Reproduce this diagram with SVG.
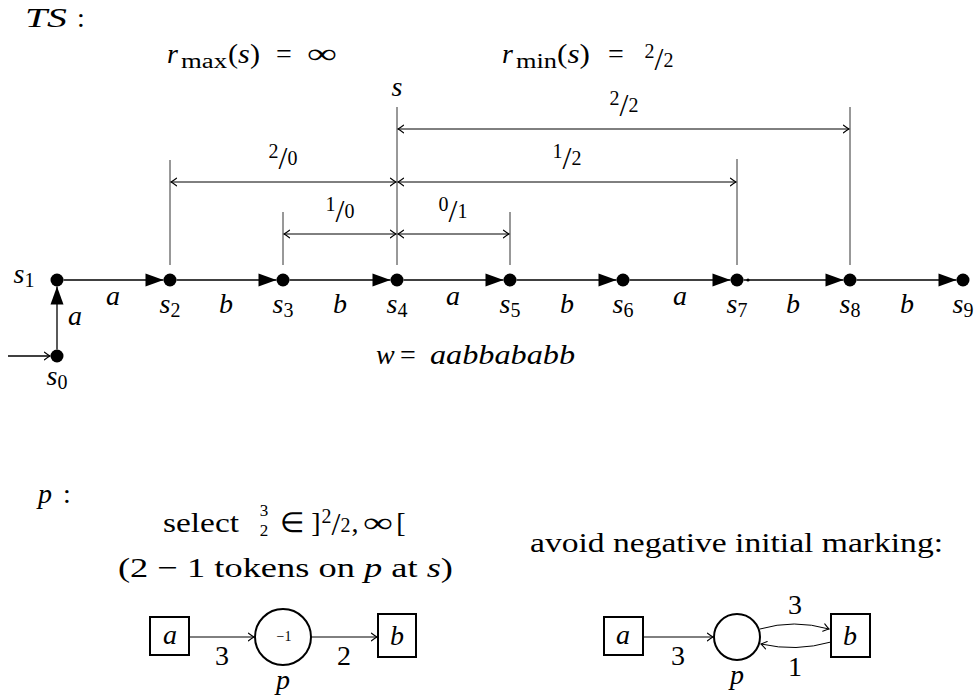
<svg xmlns="http://www.w3.org/2000/svg" width="978" height="700" viewBox="0 0 978 700">
<style>
.t{font-family:"Liberation Serif",serif;font-size:28px;fill:#000}
.i{font-style:italic}
.sm{font-size:20px;font-style:normal}
.fr{font-size:17px;font-style:normal}
.sl{font-size:32px;font-style:normal}
.dim{stroke:#000;stroke-width:1;fill:none}
.vl{stroke:#333;stroke-width:1;fill:none}
.edge{stroke:#000;stroke-width:1.3;fill:none}
.st{fill:#000}
.box{fill:#fff;stroke:#000;stroke-width:2}
.pl{fill:#fff;stroke:#000;stroke-width:2}
</style>
<defs>
<marker id="to" viewBox="-7 -5 9 10" refX="0" refY="0" markerWidth="9" markerHeight="10" markerUnits="userSpaceOnUse" orient="auto-start-reverse">
<path d="M-5.5,-3.8 Q-1.5,-0.8 0,0 Q-1.5,0.8 -5.5,3.8" fill="none" stroke="#000" stroke-width="1.1" stroke-linecap="round"/>
</marker>
<marker id="lx" viewBox="-19 -7 20 14" refX="0" refY="0" markerWidth="20" markerHeight="14" markerUnits="userSpaceOnUse" orient="auto">
<path d="M-18,-6.5 L0,0 L-18,6.5 Z" fill="#000"/>
</marker>
</defs>
<rect width="978" height="700" fill="#fff"/>

<g id="titles">
<text class="t i" x="25" y="27" textLength="42" lengthAdjust="spacingAndGlyphs">TS</text>
<text class="t" x="81" y="27" text-anchor="middle">:</text>
<text class="t i" x="167" y="63">r</text>
<text class="t sm" x="181" y="68" textLength="46" lengthAdjust="spacingAndGlyphs">max</text>
<text class="t" x="228" y="63" textLength="32" lengthAdjust="spacingAndGlyphs">(<tspan class="i">s</tspan>)</text>
<text class="t" x="284" y="63" text-anchor="middle">=</text>
<text class="t" x="307" y="63" textLength="30" lengthAdjust="spacingAndGlyphs">∞</text>
<text class="t i" x="502" y="63">r</text>
<text class="t sm" x="516" y="68" textLength="41" lengthAdjust="spacingAndGlyphs">min</text>
<text class="t" x="557" y="63" textLength="33" lengthAdjust="spacingAndGlyphs">(<tspan class="i">s</tspan>)</text>
<text class="t" x="616" y="63" text-anchor="middle">=</text>
<text class="t" x="659" y="67" text-anchor="middle"><tspan class="sm" dy="-9">2</tspan><tspan class="sl" dy="12">/</tspan><tspan class="sm" dy="-3">2</tspan></text>
<text class="t i" x="397" y="96" text-anchor="middle">s</text>
<text class="t i" x="376" y="364">w</text>
<text class="t" x="408" y="364" text-anchor="middle">=</text>
<text class="t i" x="430" y="364" textLength="145" lengthAdjust="spacingAndGlyphs">aabbababb</text>
</g>

<g id="dimensions">
<line class="vl" x1="397" y1="107" x2="397" y2="265"/>
<line class="vl" x1="170" y1="160" x2="170" y2="265"/>
<line class="vl" x1="283" y1="212" x2="283" y2="265"/>
<line class="vl" x1="510" y1="212" x2="510" y2="265"/>
<line class="vl" x1="737" y1="159" x2="737" y2="265"/>
<line class="vl" x1="850" y1="107" x2="850" y2="265"/>
<line class="dim" x1="398" y1="129" x2="849" y2="129" marker-start="url(#to)" marker-end="url(#to)"/>
<line class="dim" x1="171" y1="182" x2="396" y2="182" marker-start="url(#to)" marker-end="url(#to)"/>
<line class="dim" x1="398" y1="182" x2="736" y2="182" marker-start="url(#to)" marker-end="url(#to)"/>
<line class="dim" x1="284" y1="234" x2="396" y2="234" marker-start="url(#to)" marker-end="url(#to)"/>
<line class="dim" x1="398" y1="234" x2="509" y2="234" marker-start="url(#to)" marker-end="url(#to)"/>
<text class="t" x="624" y="112" text-anchor="middle"><tspan class="sm" dy="-7">2</tspan><tspan class="sl" dy="11">/</tspan><tspan class="sm" dy="-4">2</tspan></text>
<text class="t" x="283" y="165" text-anchor="middle"><tspan class="sm" dy="-7">2</tspan><tspan class="sl" dy="11">/</tspan><tspan class="sm" dy="-4">0</tspan></text>
<text class="t" x="567" y="165" text-anchor="middle"><tspan class="sm" dy="-7">1</tspan><tspan class="sl" dy="11">/</tspan><tspan class="sm" dy="-4">2</tspan></text>
<text class="t" x="340" y="218" text-anchor="middle"><tspan class="sm" dy="-7">1</tspan><tspan class="sl" dy="11">/</tspan><tspan class="sm" dy="-4">0</tspan></text>
<text class="t" x="453" y="218" text-anchor="middle"><tspan class="sm" dy="-7">0</tspan><tspan class="sl" dy="11">/</tspan><tspan class="sm" dy="-4">1</tspan></text>
</g>

<g id="connectors">
<line class="edge" x1="8" y1="356" x2="50" y2="356" marker-end="url(#to)"/>
<line class="edge" x1="57" y1="349.5" x2="57" y2="286.5" marker-end="url(#lx)"/>
<line class="edge" x1="63.5" y1="280" x2="163.5" y2="280" marker-end="url(#lx)"/>
<line class="edge" x1="176.5" y1="280" x2="276.5" y2="280" marker-end="url(#lx)"/>
<line class="edge" x1="289.5" y1="280" x2="390.5" y2="280" marker-end="url(#lx)"/>
<line class="edge" x1="403.5" y1="280" x2="503.5" y2="280" marker-end="url(#lx)"/>
<line class="edge" x1="516.5" y1="280" x2="616.5" y2="280" marker-end="url(#lx)"/>
<line class="edge" x1="629.5" y1="280" x2="730.5" y2="280" marker-end="url(#lx)"/>
<line class="edge" x1="743.5" y1="280" x2="843.5" y2="280" marker-end="url(#lx)"/>
<line class="edge" x1="856.5" y1="280" x2="956.5" y2="280" marker-end="url(#lx)"/>
<circle cx="748" cy="280" r="1.6" fill="#000"/>
<text class="t i" x="75" y="325" text-anchor="middle">a</text>
<text class="t i" x="113" y="305" text-anchor="middle">a</text>
<text class="t i" x="226" y="313" text-anchor="middle">b</text>
<text class="t i" x="340" y="313" text-anchor="middle">b</text>
<text class="t i" x="453" y="305" text-anchor="middle">a</text>
<text class="t i" x="567" y="313" text-anchor="middle">b</text>
<text class="t i" x="680" y="305" text-anchor="middle">a</text>
<text class="t i" x="793" y="313" text-anchor="middle">b</text>
<text class="t i" x="907" y="313" text-anchor="middle">b</text>
</g>

<g id="s0"><circle class="st" cx="57" cy="356" r="6.5"/><text class="t i" x="57" y="385" text-anchor="middle">s<tspan class="sm" dy="4">0</tspan></text></g>
<g id="s1"><circle class="st" cx="57" cy="280" r="6.5"/><text class="t i" x="24" y="283" text-anchor="middle">s<tspan class="sm" dy="4">1</tspan></text></g>
<g id="s2"><circle class="st" cx="170" cy="280" r="6.5"/><text class="t i" x="170" y="313" text-anchor="middle">s<tspan class="sm" dy="4">2</tspan></text></g>
<g id="s3"><circle class="st" cx="283" cy="280" r="6.5"/><text class="t i" x="283" y="313" text-anchor="middle">s<tspan class="sm" dy="4">3</tspan></text></g>
<g id="s4"><circle class="st" cx="397" cy="280" r="6.5"/><text class="t i" x="397" y="313" text-anchor="middle">s<tspan class="sm" dy="4">4</tspan></text></g>
<g id="s5"><circle class="st" cx="510" cy="280" r="6.5"/><text class="t i" x="510" y="313" text-anchor="middle">s<tspan class="sm" dy="4">5</tspan></text></g>
<g id="s6"><circle class="st" cx="623" cy="280" r="6.5"/><text class="t i" x="623" y="313" text-anchor="middle">s<tspan class="sm" dy="4">6</tspan></text></g>
<g id="s7"><circle class="st" cx="737" cy="280" r="6.5"/><text class="t i" x="737" y="313" text-anchor="middle">s<tspan class="sm" dy="4">7</tspan></text></g>
<g id="s8"><circle class="st" cx="850" cy="280" r="6.5"/><text class="t i" x="850" y="313" text-anchor="middle">s<tspan class="sm" dy="4">8</tspan></text></g>
<g id="s9"><circle class="st" cx="963" cy="280" r="6.5"/><text class="t i" x="963" y="313" text-anchor="middle">s<tspan class="sm" dy="4">9</tspan></text></g>

<g id="net-text">
<text class="t i" x="38" y="503">p</text>
<text class="t" x="67" y="503" text-anchor="middle">:</text>
<text class="t" x="163" y="532" textLength="76" lengthAdjust="spacingAndGlyphs">select</text>
<text class="t fr" x="264" y="516" text-anchor="middle">3</text>
<text class="t fr" x="264" y="536" text-anchor="middle">2</text>
<text class="t" x="292" y="532" text-anchor="middle">∈</text>
<text class="t" x="316" y="532" text-anchor="middle">]</text>
<text class="t" x="336" y="532" text-anchor="middle"><tspan class="sm" dy="-9">2</tspan><tspan class="sl" dy="12">/</tspan><tspan class="sm" dy="-3">2</tspan></text>
<text class="t" x="355" y="532" text-anchor="middle">,</text>
<text class="t" x="363" y="532" textLength="30" lengthAdjust="spacingAndGlyphs">∞</text>
<text class="t" x="401" y="532" text-anchor="middle">[</text>
<text class="t" x="118" y="577" textLength="335" lengthAdjust="spacingAndGlyphs">(2 − 1 tokens on <tspan class="i">p</tspan> at <tspan class="i">s</tspan>)</text>
<text class="t" x="530" y="552" textLength="413" lengthAdjust="spacingAndGlyphs">avoid negative initial marking:</text>
</g>

<g id="net1-connectors">
<line class="dim" x1="189" y1="637" x2="254" y2="637" marker-end="url(#to)"/>
<line class="dim" x1="311" y1="637" x2="377" y2="637" marker-end="url(#to)"/>
<text class="t" x="222" y="665" text-anchor="middle">3</text>
<text class="t" x="344" y="665" text-anchor="middle">2</text>
</g>
<g id="net1-a"><rect class="box" x="150" y="617" width="39" height="38"/><text class="t i" x="170" y="644" text-anchor="middle">a</text></g>
<g id="net1-p"><circle class="pl" cx="283" cy="637" r="28"/><text class="t" x="284" y="641" text-anchor="middle" style="font-size:14px">−1</text><text class="t i" x="283" y="689" text-anchor="middle">p</text></g>
<g id="net1-b"><rect class="box" x="378" y="614" width="38" height="43"/><text class="t i" x="397" y="645" text-anchor="middle">b</text></g>

<g id="net2-connectors">
<line class="dim" x1="643" y1="637" x2="713" y2="637" marker-end="url(#to)"/>
<path class="dim" d="M760,629 Q794,619 829,629" marker-end="url(#to)"/>
<path class="dim" d="M831,642 Q796,652 761,644" marker-end="url(#to)"/>
<text class="t" x="678" y="665" text-anchor="middle">3</text>
<text class="t" x="795" y="614" text-anchor="middle">3</text>
<text class="t" x="795" y="676" text-anchor="middle">1</text>
</g>
<g id="net2-a"><rect class="box" x="604" y="617" width="39" height="38"/><text class="t i" x="623" y="644" text-anchor="middle">a</text></g>
<g id="net2-p"><circle class="pl" cx="737" cy="637" r="23"/><text class="t i" x="737" y="684" text-anchor="middle">p</text></g>
<g id="net2-b"><rect class="box" x="831" y="614" width="39" height="43"/><text class="t i" x="850" y="645" text-anchor="middle">b</text></g>
</svg>
